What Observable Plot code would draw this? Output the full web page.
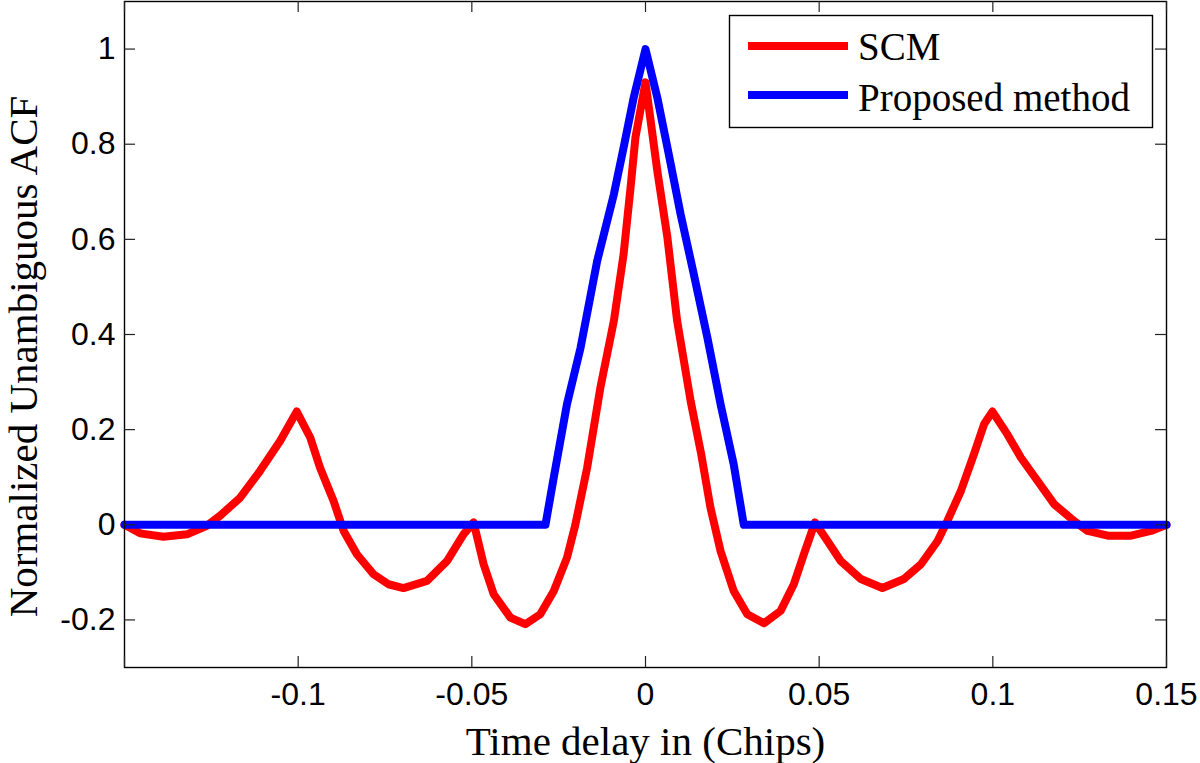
<!DOCTYPE html>
<html>
<head>
<meta charset="utf-8">
<script src="https://cdn.jsdelivr.net/npm/d3@7"></script>
<script src="https://cdn.jsdelivr.net/npm/@observablehq/plot@0.6"></script>
<style>
  html, body { margin: 0; padding: 0; background: #fff; }
  #wrap { position: relative; width: 1200px; height: 763px; }
  #legend { position: absolute; left: 0; top: 0; }
</style>
</head>
<body>
<div id="wrap"></div>
<script>
// ---- data ----
const scmT = [-0.15, -0.1455, -0.1388, -0.132, -0.1263, -0.1225, -0.1167, -0.111, -0.1052, -0.1004, -0.0965, -0.0937, -0.0898, -0.0869, -0.0831, -0.0783, -0.074, -0.0697, -0.0629, -0.0571, -0.0524, -0.0495, -0.0466, -0.0437, -0.0389, -0.0346, -0.0303, -0.0264, -0.0226, -0.0202, -0.0168, -0.013, -0.0091, -0.0063, -0.0043, -0.0029, 0,
  0.0034, 0.0063, 0.0091, 0.013, 0.016, 0.0187, 0.0216, 0.0254, 0.0293, 0.0341, 0.0389, 0.0427, 0.0456, 0.0488, 0.0524, 0.0562, 0.062, 0.0682, 0.0744, 0.0793, 0.0841, 0.0869, 0.0908, 0.0946, 0.0975, 0.0999, 0.1042, 0.1081, 0.1129, 0.1177, 0.1234, 0.1273, 0.1331, 0.1398, 0.1455, 0.15];
const scmV = [0, -0.018, -0.025, -0.02, -0.002, 0.019, 0.057, 0.113, 0.176, 0.238, 0.183, 0.12, 0.05, -0.013, -0.062, -0.104, -0.125, -0.133, -0.118, -0.076, -0.02, 0.005, -0.083, -0.146, -0.195, -0.209, -0.188, -0.139, -0.069, 0.0, 0.12, 0.288, 0.429, 0.569, 0.709, 0.814, 0.93,
  0.744, 0.604, 0.429, 0.26, 0.15, 0.036, -0.055, -0.139, -0.188, -0.207, -0.181, -0.125, -0.062, 0.005, -0.034, -0.076, -0.114, -0.133, -0.114, -0.083, -0.034, 0.008, 0.071, 0.149, 0.212, 0.238, 0.19, 0.141, 0.092, 0.043, 0.008, -0.013, -0.023, -0.023, -0.013, 0];
const propT = [-0.15, -0.0288, -0.0264, -0.0226, -0.0187, -0.0139, -0.0091, -0.0063, -0.0034, 0, 0.0034, 0.0067, 0.0101, 0.0139, 0.0178, 0.0216, 0.0254, 0.0283, 0.15];
const propV = [0, 0, 0.1, 0.254, 0.372, 0.555, 0.695, 0.793, 0.898, 1, 0.898, 0.779, 0.653, 0.527, 0.394, 0.254, 0.127, 0, 0];
const xTicks = [-0.15, -0.1, -0.05, 0, 0.05, 0.1, 0.15];
const xTickLabels = [-0.1, -0.05, 0, 0.05, 0.1, 0.15];
const yTicks = [-0.2, 0, 0.2, 0.4, 0.6, 0.8, 1];
const seriesNames = ["SCM", "Proposed method"];
const seriesColors = ["#ff0000", "#0000ff"];
const xLabel = "Time delay in (Chips)";
const yLabel = "Normalized Unambiguous ACF";

// ---- build tables ----
const scm = scmT.map((t, i) => ({t, v: scmV[i]}));
const prop = propT.map((t, i) => ({t, v: propV[i]}));

const W = 1200, H = 763, mL = 124, mR = 34, mT = 1, mB = 96;
const plotW = W - mL - mR, plotH = H - mT - mB;
const tickLen = 11;

const chart = Plot.plot({
  width: W, height: H,
  marginLeft: mL, marginRight: mR, marginTop: mT, marginBottom: mB,
  x: {domain: [-0.15, 0.15]},
  y: {domain: [-0.3, 1.1]},
  style: {background: "#fff"},
  marks: [
    Plot.line(scm, {x: "t", y: "v", stroke: seriesColors[0], strokeWidth: 8, strokeLinejoin: "round", strokeLinecap: "round"}),
    Plot.line(prop, {x: "t", y: "v", stroke: seriesColors[1], strokeWidth: 8, strokeLinejoin: "round", strokeLinecap: "round"}),
    Plot.frame({stroke: "#000", strokeWidth: 1.4}),
    // inward ticks on all four sides
    Plot.tickX(xTicks, {x: d => d, insetTop: plotH - tickLen, stroke: "#222", strokeWidth: 1.2}),
    Plot.tickX(xTicks, {x: d => d, insetBottom: plotH - tickLen, stroke: "#222", strokeWidth: 1.2}),
    Plot.tickY(yTicks, {y: d => d, insetRight: plotW - tickLen, stroke: "#222", strokeWidth: 1.2}),
    Plot.tickY(yTicks, {y: d => d, insetLeft: plotW - tickLen, stroke: "#222", strokeWidth: 1.2}),
    Plot.axisX(xTickLabels, {tickSize: 0, tickPadding: 15, fontSize: 32, fontFamily: "Liberation Sans, Arial, sans-serif", fill: "#000", tickFormat: d => String(d), label: null}),
    Plot.axisY(yTicks, {tickSize: 0, tickPadding: 9, fontSize: 32, fontFamily: "Liberation Sans, Arial, sans-serif", fill: "#000", tickFormat: d => String(d), label: null}),
    Plot.text([xLabel], {text: d => d, frameAnchor: "bottom", textAnchor: "middle", lineAnchor: "middle", dy: 74, fontSize: 41, fontFamily: "Liberation Serif, Times New Roman, serif", fill: "#000"}),
    Plot.text([yLabel], {text: d => d, frameAnchor: "left", textAnchor: "middle", lineAnchor: "middle", rotate: -90, dx: -101, dy: 22, fontSize: 41, fontFamily: "Liberation Serif, Times New Roman, serif", fill: "#000"})
  ]
});

const wrap = document.getElementById("wrap");
wrap.appendChild(chart);

// ---- legend (overlay) ----
const ns = "http://www.w3.org/2000/svg";
const leg = document.createElementNS(ns, "svg");
leg.setAttribute("id", "legend");
leg.setAttribute("width", W);
leg.setAttribute("height", 140);
const box = document.createElementNS(ns, "rect");
box.setAttribute("x", 729.5); box.setAttribute("y", 15.5);
box.setAttribute("width", 423); box.setAttribute("height", 112);
box.setAttribute("fill", "#fff"); box.setAttribute("stroke", "#000"); box.setAttribute("stroke-width", 1.4);
leg.appendChild(box);
const rowY = [46, 95], baseY = [60, 111];
seriesNames.forEach((name, i) => {
  const ln = document.createElementNS(ns, "line");
  ln.setAttribute("x1", 748); ln.setAttribute("x2", 848);
  ln.setAttribute("y1", rowY[i]); ln.setAttribute("y2", rowY[i]);
  ln.setAttribute("stroke", seriesColors[i]); ln.setAttribute("stroke-width", 8);
  leg.appendChild(ln);
  const tx = document.createElementNS(ns, "text");
  tx.setAttribute("x", 858); tx.setAttribute("y", baseY[i]);
  tx.setAttribute("font-family", "Liberation Serif, Times New Roman, serif");
  tx.setAttribute("font-size", 39);
  tx.textContent = name;
  leg.appendChild(tx);
});
wrap.appendChild(leg);
</script>
</body>
</html>
